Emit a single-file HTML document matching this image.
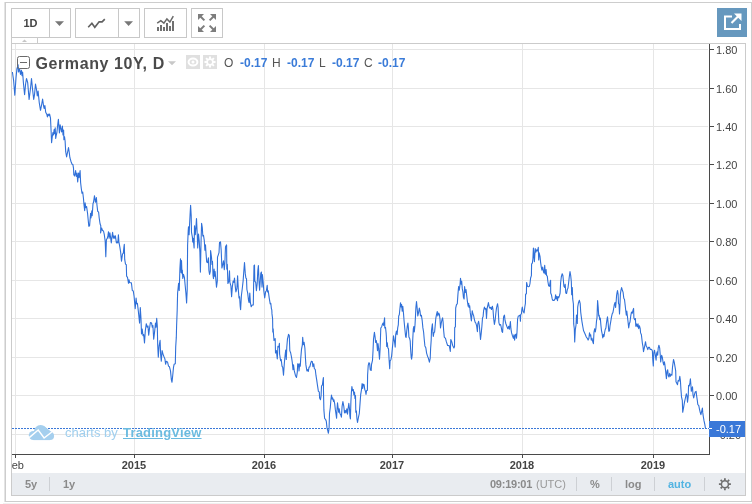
<!DOCTYPE html>
<html>
<head>
<meta charset="utf-8">
<title>Germany 10Y, D</title>
<style>
html,body{margin:0;padding:0;background:#fff;}
body{width:752px;height:504px;position:relative;overflow:hidden;font-family:"Liberation Sans",Arial,sans-serif;}
.abs{position:absolute;}
#outer{left:5px;top:2px;width:747px;height:500px;border:1px solid #cdcdcd;box-sizing:border-box;background:#fff;}
.btn{position:absolute;top:8px;height:30px;box-sizing:border-box;border:1px solid #c8c8c8;background:#fff;}
#chartbox{left:11px;top:43px;width:735px;height:453px;box-sizing:border-box;border:1px solid #cbcbcb;background:#fff;}
#pane{left:12px;top:44px;width:697px;height:410px;overflow:hidden;}
#bottombar{left:12px;top:473px;width:733px;height:22px;background:#e9ecf0;}
.bt{position:absolute;top:473px;height:22px;line-height:23px;font-size:11px;font-weight:bold;color:#8a8a8a;white-space:nowrap;}
.sep{position:absolute;top:477px;width:1px;height:14px;background:#cdd0d4;}
.yl{position:absolute;left:716px;font-size:11px;color:#444;line-height:12px;white-space:nowrap;}
.xl{position:absolute;top:459px;font-size:11px;font-weight:bold;color:#444;line-height:12px;width:40px;text-align:center;white-space:nowrap;}
.lg{position:absolute;top:55px;height:16px;line-height:16px;font-size:12px;white-space:nowrap;color:#555;}
.lv{color:#3a7bd8;font-weight:bold;}
</style>
</head>
<body>
<div id="outer" class="abs"></div>
<div class="abs" style="left:4px;top:2px;width:1px;height:500px;background:#e4e4e4;"></div>
<div class="abs" style="left:3px;top:503px;width:749px;height:1px;background:#f0f0f0;"></div>

<!-- toolbar -->
<div class="btn" style="left:11px;width:60px;"></div>
<div class="abs" style="left:49px;top:9px;width:1px;height:28px;background:#c8c8c8;"></div>
<div class="abs" style="left:12px;top:8px;width:37px;height:30px;line-height:31px;text-align:center;font-size:11px;font-weight:bold;color:#444;">1D</div>
<div class="btn" style="left:75px;width:65px;"></div>
<div class="abs" style="left:118px;top:9px;width:1px;height:28px;background:#c8c8c8;"></div>
<div class="btn" style="left:144px;width:43px;"></div>
<div class="btn" style="left:191px;width:32px;"></div>
<div class="abs" style="left:717px;top:8px;width:30px;height:29px;background:#6698be;"></div>
<!-- small tab -->
<div class="abs" style="left:11px;top:37px;width:27px;height:7px;box-sizing:border-box;border:1px solid #cbcbcb;border-top:none;border-bottom:none;"></div>

<div id="chartbox" class="abs"></div>
<div id="bottombar" class="abs"></div>

<svg class="abs" style="left:0;top:0" width="752" height="504" viewBox="0 0 752 504">
<g fill="#e6e6e6" shape-rendering="crispEdges"><rect x="12" y="49" width="696" height="1"/><rect x="12" y="88" width="696" height="1"/><rect x="12" y="126" width="696" height="1"/><rect x="12" y="164" width="696" height="1"/><rect x="12" y="203" width="696" height="1"/><rect x="12" y="241" width="696" height="1"/><rect x="12" y="280" width="696" height="1"/><rect x="12" y="318" width="696" height="1"/><rect x="12" y="357" width="696" height="1"/><rect x="12" y="395" width="696" height="1"/><rect x="12" y="434" width="696" height="1"/><rect x="15" y="44" width="1" height="410"/><rect x="134" y="44" width="1" height="410"/><rect x="264" y="44" width="1" height="410"/><rect x="392" y="44" width="1" height="410"/><rect x="522" y="44" width="1" height="410"/><rect x="653" y="44" width="1" height="410"/></g>
<!-- toolbar icons -->
<g fill="#777">
<path d="M55,21.2 L64,21.2 L59.5,26 Z"/>
<path d="M124.2,21.2 L133,21.2 L128.6,26 Z"/>
</g>
<path d="M22,42 L27,42 L24.5,39.5 Z" fill="#c6c6c6"/>
<path d="M88.2,27.3 L91.9,23.3 L94.8,27.3 L99.1,21.8 L102.1,21.9 L104.8,19.1" fill="none" stroke="#606060" stroke-width="1.6" stroke-linejoin="miter"/>
<g fill="#707070" shape-rendering="crispEdges">
<rect x="157" y="27" width="2" height="4"/><rect x="160" y="25" width="2" height="6"/><rect x="163" y="27" width="2" height="4"/><rect x="166" y="23" width="2" height="8"/><rect x="169" y="26" width="2" height="5"/><rect x="172" y="21" width="2" height="10"/>
</g>
<path d="M157.2,23.2 L160.8,20.7 L163.9,23.2 L166.9,18.9 L169.9,22.1 L173.3,16.2" fill="none" stroke="#6a6a6a" stroke-width="1.5"/>
<!-- fullscreen arrows -->
<g fill="#7d7d7d" stroke="#7d7d7d" stroke-width="2">
<path d="M198,14 L204,14 L198,20 Z" stroke="none"/><path d="M200,16 L204.4,20.4" fill="none"/>
<path d="M216,14 L210,14 L216,20 Z" stroke="none"/><path d="M214,16 L209.6,20.4" fill="none"/>
<path d="M198,32 L204,32 L198,26 Z" stroke="none"/><path d="M200,30 L204.4,25.6" fill="none"/>
<path d="M216,32 L210,32 L216,26 Z" stroke="none"/><path d="M214,30 L209.6,25.6" fill="none"/>
</g>
<!-- popup icon -->
<g fill="none" stroke="#fff" stroke-width="2">
<path d="M732,16.5 L725,16.5 L725,29 L740,29 L740,24"/>
<path d="M731.5,23 L739,15.5" stroke-width="2.2"/>
</g>
<path d="M734,13.5 L741.5,13.5 L741.5,21 Z" fill="#fff"/>

<!-- series -->
<svg x="12" y="44" width="697" height="410" viewBox="12 44 697 410" overflow="hidden">
<path d="M12.4,72.0 L13.6,80.3 L14.8,95.3 L16.0,78.0 L16.9,69.0 L18.1,64.8 L18.4,72.0 L19.6,69.0 L20.5,74.4 L21.4,70.2 L22.0,75.6 L22.6,72.0 L23.4,82.7 L24.6,94.7 L25.6,84.0 L26.5,78.5 L27.7,82.7 L29.1,99.5 L30.6,87.5 L31.5,78.5 L32.5,88.7 L33.7,99.5 L34.5,94.7 L35.5,84.0 L36.6,90.0 L37.3,96.0 L38.1,91.0 L39.3,103.0 L40.5,110.3 L41.7,104.3 L42.6,99.0 L43.5,105.5 L44.1,108.5 L44.9,105.5 L45.7,112.2 L46.9,114.6 L47.4,117.0 L48.1,114.0 L49.0,115.8 L49.6,114.0 L50.5,118.2 L51.0,129.0 L51.6,142.7 L52.2,137.3 L52.9,132.5 L53.5,135.0 L54.1,129.5 L54.6,133.7 L55.2,127.7 L55.7,138.5 L56.3,135.0 L56.9,132.5 L57.7,124.7 L58.4,119.4 L58.9,126.5 L59.4,133.0 L60.1,124.7 L60.8,128.3 L61.5,132.0 L62.4,126.0 L63.0,135.0 L63.6,130.0 L63.9,139.7 L64.5,136.7 L65.1,141.0 L65.7,151.7 L66.6,157.0 L67.3,153.5 L68.5,147.5 L69.3,152.9 L69.9,157.7 L70.9,161.2 L72.1,164.2 L72.9,164.6 L73.5,168.2 L73.8,174.7 L74.6,176.0 L75.6,170.6 L76.3,176.5 L77.0,173.0 L77.7,182.0 L78.5,173.0 L79.1,177.7 L80.1,170.6 L80.6,182.5 L81.3,188.5 L82.0,193.3 L82.7,192.0 L83.5,198.7 L83.9,204.0 L84.7,210.6 L85.1,202.9 L85.8,207.7 L86.6,206.5 L87.5,212.8 L88.8,226.3 L89.6,225.7 L90.6,213.2 L91.0,218.0 L91.8,210.8 L92.2,215.6 L93.0,203.6 L93.5,202.3 L94.5,195.7 L95.4,202.3 L96.4,197.5 L96.9,204.5 L97.7,211.4 L98.6,212.0 L99.2,218.0 L100.1,224.0 L100.8,225.7 L100.6,232.9 L101.6,228.0 L102.5,230.5 L103.5,231.0 L104.3,234.7 L105.2,241.3 L105.8,256.8 L106.4,239.5 L107.3,238.3 L107.9,235.9 L108.5,231.7 L109.1,238.3 L109.9,232.9 L110.7,238.3 L111.3,243.0 L111.9,237.0 L112.6,232.3 L113.3,238.3 L114.0,235.9 L114.7,238.3 L115.4,235.9 L116.4,243.0 L117.2,241.9 L117.8,243.0 L118.4,234.7 L118.9,241.9 L119.9,247.3 L120.7,252.7 L121.5,261.2 L122.5,254.0 L123.3,253.4 L123.9,247.4 L124.3,244.3 L124.7,259.4 L125.5,264.1 L126.3,264.7 L126.6,276.1 L127.5,277.3 L128.5,283.3 L129.0,279.7 L129.7,282.7 L131.4,282.7 L132.3,290.5 L133.3,291.0 L134.1,296.5 L135.2,308.8 L136.1,298.0 L136.7,304.0 L137.4,303.4 L138.4,311.8 L139.6,323.1 L140.3,307.6 L141.0,318.9 L141.5,333.9 L142.2,329.1 L143.0,335.7 L143.7,334.5 L144.5,342.9 L145.3,330.9 L146.3,323.7 L147.3,327.3 L148.0,326.1 L148.7,335.1 L149.5,328.5 L150.4,322.5 L151.6,323.1 L152.3,327.3 L152.9,325.5 L153.7,339.3 L154.7,330.9 L155.5,323.1 L156.1,327.3 L156.7,318.3 L157.3,326.1 L157.7,345.0 L158.3,357.1 L159.1,345.8 L160.1,340.4 L160.6,354.1 L161.3,361.3 L162.1,350.6 L163.0,354.1 L163.9,356.5 L164.9,358.9 L165.6,364.3 L166.3,361.3 L167.5,361.9 L168.5,366.1 L169.4,366.7 L170.5,370.9 L171.4,379.9 L172.0,382.3 L172.7,375.7 L173.5,367.3 L174.1,364.3 L175.3,363.7 L175.7,347.0 L176.3,337.4 L176.6,326.0 L177.2,310.0 L177.6,293.0 L178.6,283.3 L179.2,290.5 L179.9,268.9 L180.5,258.8 L181.1,272.5 L181.5,260.6 L182.0,273.7 L182.3,270.1 L182.8,278.5 L183.5,274.3 L184.4,277.3 L185.2,285.7 L185.9,292.9 L186.6,303.0 L187.2,290.0 L187.6,245.5 L188.2,231.1 L188.5,226.9 L189.1,234.7 L189.6,223.9 L190.1,214.4 L190.6,205.4 L191.2,215.6 L191.5,232.3 L192.4,237.1 L192.7,241.9 L193.2,238.3 L194.1,247.9 L194.5,225.7 L195.3,234.7 L195.9,227.5 L196.5,218.5 L197.3,235.9 L197.7,247.9 L198.5,234.1 L199.2,240.7 L199.9,252.0 L200.4,272.1 L201.1,240.0 L201.6,223.3 L202.3,227.5 L202.8,235.9 L203.5,235.3 L204.3,240.7 L204.9,250.3 L205.5,244.9 L205.9,251.5 L206.7,262.0 L207.6,262.6 L208.4,257.8 L208.9,270.3 L209.6,274.5 L210.3,271.5 L210.6,250.5 L211.5,257.2 L212.0,264.4 L212.5,261.4 L213.0,275.1 L213.5,278.7 L214.1,269.1 L214.7,276.3 L215.1,271.5 L215.9,279.9 L216.5,287.1 L217.3,281.1 L217.5,257.2 L218.3,254.8 L219.0,252.7 L219.5,242.5 L220.5,241.9 L221.2,250.3 L221.9,268.0 L222.8,264.4 L223.5,260.8 L224.3,269.7 L224.9,262.0 L225.5,246.7 L226.6,244.9 L226.8,269.1 L227.3,264.4 L227.9,283.5 L228.9,281.1 L229.5,270.9 L229.9,282.3 L230.9,285.9 L231.6,296.7 L232.3,287.1 L233.1,281.1 L233.9,282.3 L234.5,278.1 L235.2,285.9 L235.9,291.9 L236.9,288.3 L237.6,275.7 L238.3,289.5 L239.0,297.9 L239.6,296.7 L240.2,306.2 L240.6,309.8 L241.4,295.5 L242.3,288.3 L243.1,281.1 L243.8,271.5 L244.5,262.6 L245.3,273.9 L245.9,278.1 L246.5,278.7 L246.9,289.5 L247.7,293.1 L248.5,300.3 L249.1,302.7 L249.8,293.1 L250.4,302.7 L251.2,306.8 L252.2,305.0 L253.3,305.0 L253.6,285.9 L254.0,265.6 L254.5,265.0 L254.8,281.1 L255.7,282.3 L256.4,290.7 L257.2,283.5 L257.8,270.9 L258.4,265.6 L259.0,281.1 L259.6,290.1 L260.3,279.9 L260.8,273.3 L261.4,272.1 L262.0,287.1 L262.4,274.5 L263.2,282.3 L263.8,290.7 L264.7,297.9 L265.6,291.9 L266.4,290.7 L267.2,285.3 L267.6,291.9 L268.2,290.7 L269.2,297.9 L270.2,303.9 L270.8,303.3 L271.4,308.6 L271.8,309.8 L272.0,313.9 L272.6,318.7 L272.8,331.9 L273.2,328.9 L273.5,334.3 L274.0,340.4 L275.2,338.6 L275.5,353.0 L276.4,350.6 L277.3,358.9 L277.9,346.4 L278.8,347.0 L279.4,343.4 L279.6,354.1 L280.6,360.7 L281.2,359.5 L282.0,366.1 L282.7,367.3 L283.5,375.1 L284.4,362.5 L285.1,355.3 L285.7,350.0 L286.3,359.5 L286.8,347.0 L287.5,338.6 L288.0,337.0 L288.5,334.3 L289.3,335.6 L289.8,350.6 L290.7,353.0 L291.6,357.7 L292.3,362.5 L293.0,369.7 L293.5,364.9 L294.3,370.9 L295.5,375.7 L296.5,377.5 L297.3,372.1 L297.7,363.7 L298.5,364.3 L299.0,370.9 L299.7,363.7 L300.3,366.1 L300.7,358.9 L301.5,349.4 L302.3,345.2 L302.7,337.4 L303.3,344.6 L304.1,342.2 L304.9,348.2 L305.5,358.9 L305.9,364.9 L306.9,370.9 L307.8,369.7 L308.3,371.5 L309.0,367.3 L309.9,366.7 L310.7,363.1 L311.4,361.3 L312.3,361.6 L312.9,366.7 L313.8,363.7 L314.3,368.5 L315.3,369.7 L316.0,375.7 L316.7,379.9 L317.4,384.8 L318.4,391.4 L319.3,392.0 L319.6,398.0 L320.5,399.7 L321.1,395.6 L321.5,386.0 L322.4,384.8 L323.0,380.0 L323.4,377.5 L323.5,392.0 L323.9,409.9 L324.6,418.3 L325.6,419.5 L326.3,421.3 L327.0,427.9 L327.7,430.3 L328.4,433.3 L329.1,427.9 L329.5,413.5 L330.3,407.5 L330.9,399.7 L331.5,395.0 L332.1,399.1 L332.7,397.9 L333.5,401.5 L333.9,399.7 L334.7,403.9 L335.4,409.9 L336.1,414.7 L336.6,418.3 L337.0,409.9 L337.5,402.7 L338.2,408.7 L338.7,412.3 L339.2,408.7 L339.9,413.5 L340.9,415.3 L341.4,417.1 L342.1,406.3 L342.9,401.5 L343.8,406.3 L344.5,412.9 L345.3,410.5 L345.9,412.9 L346.9,408.7 L347.5,414.1 L348.1,408.7 L348.8,403.3 L349.5,408.7 L349.9,415.9 L350.4,418.9 L350.9,401.5 L351.4,392.0 L351.9,386.6 L352.6,390.8 L353.3,389.6 L353.9,395.0 L354.5,392.0 L355.0,398.5 L355.5,395.6 L355.8,412.3 L356.4,411.1 L356.9,418.3 L357.5,422.5 L358.5,417.1 L359.3,413.5 L360.0,403.9 L360.7,394.4 L361.5,389.6 L362.1,383.6 L362.7,388.4 L363.3,384.2 L364.1,384.8 L364.8,389.6 L365.5,391.4 L366.0,394.4 L366.5,390.8 L367.4,390.2 L367.6,375.3 L368.2,365.7 L368.9,362.7 L369.6,363.3 L370.3,369.9 L371.2,370.5 L371.5,364.5 L372.5,360.3 L373.0,351.3 L373.5,339.4 L374.4,332.2 L375.1,337.0 L375.6,342.4 L376.3,340.6 L376.9,344.1 L377.5,350.7 L378.0,343.5 L378.7,348.9 L379.5,359.1 L380.1,348.9 L380.5,337.0 L380.8,328.0 L381.7,326.7 L382.4,324.3 L383.1,323.1 L383.6,325.5 L384.6,317.7 L384.8,327.9 L385.5,327.3 L386.1,332.7 L386.4,337.0 L386.7,346.5 L387.3,342.9 L387.8,347.7 L388.5,348.9 L389.1,359.7 L389.7,368.7 L390.1,360.9 L390.9,359.7 L391.6,356.1 L392.3,348.9 L393.1,340.6 L393.5,335.8 L394.3,340.6 L394.7,343.0 L395.2,347.1 L395.7,334.6 L396.4,331.0 L397.1,334.6 L397.7,327.9 L398.3,324.9 L398.7,315.9 L399.3,314.7 L399.9,308.7 L400.5,302.7 L401.1,306.9 L401.6,304.5 L402.2,311.1 L402.8,306.3 L403.5,313.5 L404.1,321.3 L404.8,328.5 L405.6,336.5 L406.1,337.4 L406.7,331.5 L407.3,326.1 L407.9,323.1 L408.4,328.0 L408.9,337.0 L409.7,338.6 L410.2,341.0 L410.6,348.9 L411.2,357.3 L411.6,359.1 L412.2,354.9 L412.7,340.6 L413.3,329.0 L413.9,326.5 L414.3,332.0 L415.0,325.0 L415.5,315.9 L415.9,307.5 L416.5,301.5 L417.1,307.5 L417.8,315.9 L418.6,312.3 L419.3,308.1 L420.0,311.1 L420.5,315.9 L421.4,315.3 L422.2,320.7 L422.9,327.9 L423.6,332.0 L424.2,339.0 L424.9,345.9 L425.8,347.7 L426.6,353.1 L427.5,356.1 L428.5,358.5 L429.4,362.1 L430.2,358.5 L430.6,348.9 L431.2,340.0 L431.5,330.3 L432.4,323.7 L432.9,332.7 L433.3,336.5 L433.9,332.7 L434.6,332.1 L435.2,325.5 L435.8,318.3 L436.5,314.7 L437.3,311.5 L437.8,315.9 L438.7,313.0 L439.4,314.5 L440.0,319.3 L440.5,328.0 L441.2,323.5 L441.9,320.0 L442.6,317.8 L443.1,322.0 L443.6,330.0 L444.3,337.1 L445.5,338.3 L446.4,341.9 L447.6,345.5 L449.1,345.5 L449.7,347.9 L450.3,351.5 L450.8,339.5 L451.8,341.9 L452.7,345.5 L453.9,347.9 L454.5,346.7 L454.7,327.5 L455.4,326.9 L455.7,308.0 L456.5,304.6 L457.3,303.8 L457.9,294.9 L458.6,286.5 L459.3,290.1 L460.1,284.1 L460.5,278.2 L461.2,284.1 L461.7,281.2 L462.3,288.9 L462.9,291.9 L463.4,297.3 L464.1,299.1 L464.6,286.5 L465.3,292.5 L466.0,289.5 L466.8,296.1 L467.5,302.1 L468.2,306.3 L468.7,303.3 L469.1,307.5 L469.7,305.7 L470.3,312.9 L471.4,321.0 L472.2,310.7 L472.9,314.0 L473.6,315.5 L474.3,319.1 L475.1,322.1 L475.9,323.3 L476.6,325.7 L477.4,331.7 L477.8,323.9 L478.6,321.3 L479.3,325.1 L479.9,332.3 L480.5,339.5 L481.2,333.5 L481.9,326.3 L482.5,318.0 L483.1,316.6 L483.6,310.6 L484.4,307.0 L485.1,309.2 L485.9,308.5 L486.5,318.5 L487.1,308.5 L487.7,306.0 L488.4,302.5 L489.2,306.7 L489.9,308.3 L490.7,307.3 L491.5,309.5 L492.4,306.2 L493.0,309.5 L493.6,318.0 L494.4,324.5 L495.1,320.7 L495.8,313.5 L496.5,308.0 L497.2,305.0 L497.6,303.7 L498.1,307.5 L498.5,315.5 L498.9,322.6 L499.6,325.1 L500.6,324.5 L501.4,328.1 L502.0,331.7 L502.6,332.3 L503.2,322.7 L503.5,317.7 L503.9,316.0 L504.5,315.2 L505.0,320.2 L505.8,323.5 L506.8,326.3 L507.8,328.7 L508.7,326.3 L509.4,329.3 L510.4,321.6 L510.9,328.7 L511.6,332.9 L512.5,335.9 L513.4,338.3 L514.0,334.7 L514.6,340.1 L515.4,334.7 L516.1,334.1 L516.5,338.3 L517.0,332.3 L517.6,319.0 L518.3,316.0 L519.2,315.7 L520.0,315.1 L520.4,321.3 L520.7,314.8 L521.4,313.7 L521.9,309.0 L522.3,307.0 L523.1,311.3 L524.1,313.0 L524.8,307.0 L525.4,303.3 L525.6,294.3 L526.4,293.7 L526.6,282.5 L527.5,286.3 L528.4,286.7 L529.3,286.5 L530.0,283.5 L530.6,278.0 L531.4,275.6 L531.6,264.1 L532.4,262.9 L532.9,258.7 L533.4,248.0 L534.4,261.7 L535.2,248.5 L535.9,252.1 L536.8,249.7 L537.6,250.9 L538.3,247.4 L538.7,259.9 L539.1,252.7 L540.0,256.3 L540.6,262.3 L541.3,267.1 L541.9,270.1 L542.7,267.1 L543.5,271.9 L544.2,273.1 L544.7,265.3 L545.4,274.3 L546.1,269.5 L546.6,275.5 L547.3,276.1 L547.8,281.0 L548.6,285.7 L549.5,286.3 L550.2,281.5 L550.6,280.3 L550.7,293.0 L551.4,294.7 L552.2,298.9 L552.9,300.4 L554.1,300.4 L555.1,298.9 L555.6,294.7 L556.2,298.9 L556.8,296.5 L557.5,300.7 L558.0,296.5 L558.7,297.7 L559.4,295.9 L560.1,293.0 L560.6,283.0 L561.3,277.0 L562.2,273.7 L562.9,275.5 L563.4,280.7 L563.9,286.3 L564.7,287.5 L565.2,284.2 L565.8,293.0 L566.6,293.5 L567.3,289.6 L568.0,288.0 L568.6,283.0 L569.2,277.5 L570.0,271.5 L570.7,275.5 L571.3,281.5 L571.7,294.7 L572.3,287.6 L572.7,298.9 L573.4,304.0 L573.7,323.9 L574.3,328.7 L574.7,341.9 L575.3,329.9 L576.0,325.1 L576.5,315.0 L577.0,315.6 L577.3,323.5 L577.7,307.2 L578.4,303.0 L579.4,300.3 L580.2,303.6 L580.7,312.0 L581.3,316.8 L582.0,321.8 L582.7,326.0 L583.5,330.5 L584.4,332.5 L585.3,334.5 L586.3,337.0 L587.3,338.3 L588.1,340.1 L588.9,338.3 L589.5,332.7 L590.1,335.9 L590.7,334.7 L591.3,340.1 L592.0,338.3 L592.8,341.9 L593.4,343.7 L594.0,332.0 L594.7,328.7 L595.3,332.0 L595.9,328.5 L596.5,321.0 L597.0,318.0 L597.6,300.6 L598.2,307.2 L598.7,316.0 L599.2,315.3 L599.7,319.8 L600.3,318.0 L600.9,325.1 L601.5,330.7 L602.1,333.5 L602.8,338.0 L603.4,334.5 L604.0,336.5 L604.5,333.0 L605.2,329.5 L605.9,328.0 L606.4,323.5 L607.0,319.7 L607.5,316.8 L608.1,322.7 L608.8,331.1 L609.5,331.0 L610.0,326.0 L610.7,321.8 L611.5,316.8 L612.2,313.8 L612.9,312.6 L613.6,308.8 L614.4,304.2 L615.1,302.4 L615.6,307.5 L616.1,302.2 L616.6,295.3 L617.1,292.4 L617.5,290.6 L618.1,294.1 L618.5,303.7 L619.0,304.3 L619.5,314.0 L619.9,306.5 L620.4,294.1 L620.9,290.6 L621.6,287.6 L622.3,290.0 L623.1,292.4 L623.8,298.3 L624.5,299.5 L625.2,305.5 L625.8,311.0 L626.3,315.3 L626.8,311.0 L627.2,314.5 L627.9,320.5 L628.7,328.0 L629.4,323.5 L630.0,322.0 L630.8,315.6 L631.5,312.0 L632.3,313.2 L633.0,310.2 L633.6,308.4 L633.9,318.0 L634.7,319.7 L635.4,318.5 L635.8,326.3 L636.6,323.9 L637.3,326.9 L638.0,323.9 L638.7,328.7 L639.4,325.7 L640.2,328.7 L640.6,332.9 L641.4,334.7 L641.8,338.3 L642.4,343.5 L643.0,346.7 L643.5,351.6 L644.2,348.3 L644.9,345.0 L645.5,341.7 L646.2,346.0 L647.0,347.3 L647.8,349.7 L648.6,347.2 L649.4,347.2 L650.2,349.5 L651.0,349.3 L651.8,349.8 L652.4,351.0 L652.7,358.5 L653.3,366.0 L653.8,353.0 L654.5,350.2 L655.2,354.5 L656.1,360.1 L656.5,354.1 L657.1,351.8 L657.7,355.3 L658.2,348.2 L658.9,345.2 L659.7,348.2 L660.1,353.0 L660.7,361.9 L661.6,355.3 L662.3,357.1 L663.1,362.5 L663.7,364.9 L664.4,361.9 L664.9,364.9 L665.6,370.9 L666.4,378.7 L667.1,370.9 L667.7,369.7 L668.3,375.7 L669.0,376.9 L669.7,373.3 L670.4,376.3 L671.1,374.5 L671.9,375.1 L672.5,367.3 L673.1,362.5 L673.5,359.5 L674.3,362.5 L675.1,367.3 L675.7,370.9 L676.0,381.7 L676.9,383.5 L677.5,384.7 L678.1,380.5 L679.0,381.1 L679.8,376.3 L680.4,380.5 L680.9,389.0 L681.5,396.8 L682.3,400.3 L682.7,412.3 L683.7,406.9 L684.5,402.1 L685.4,398.0 L686.3,393.8 L687.0,395.6 L687.5,402.1 L688.2,396.8 L688.6,385.4 L689.3,386.0 L689.9,382.9 L690.4,378.7 L690.9,385.0 L691.3,391.3 L692.0,388.3 L692.5,386.8 L693.0,395.0 L693.7,398.0 L694.5,394.4 L695.2,392.0 L696.1,391.4 L696.6,395.6 L697.3,400.3 L697.8,404.5 L698.8,405.7 L699.5,409.3 L700.2,412.3 L700.9,414.7 L701.6,411.7 L702.4,408.1 L702.8,412.9 L703.3,416.5 L704.0,420.7 L704.8,424.3 L705.5,428.5" fill="none" stroke="#3070d8" stroke-width="1.1" stroke-linejoin="round"/>
<path d="M12,428.5 L709,428.5" stroke="#3a78d8" stroke-width="1" stroke-dasharray="2,1" fill="none" shape-rendering="crispEdges"/>
</svg>

<!-- axes -->
<g fill="#4a4a4a" shape-rendering="crispEdges">
<rect x="709" y="44" width="1" height="411"/>
<rect x="12" y="454" width="698" height="1"/>
<rect x="710" y="49" width="4" height="1"/><rect x="710" y="88" width="4" height="1"/><rect x="710" y="126" width="4" height="1"/><rect x="710" y="164" width="4" height="1"/><rect x="710" y="203" width="4" height="1"/><rect x="710" y="241" width="4" height="1"/><rect x="710" y="280" width="4" height="1"/><rect x="710" y="318" width="4" height="1"/><rect x="710" y="357" width="4" height="1"/><rect x="710" y="395" width="4" height="1"/><rect x="710" y="434" width="4" height="1"/><rect x="15" y="455" width="1" height="3"/><rect x="134" y="455" width="1" height="3"/><rect x="264" y="455" width="1" height="3"/><rect x="392" y="455" width="1" height="3"/><rect x="522" y="455" width="1" height="3"/><rect x="653" y="455" width="1" height="3"/>
</g>
<!-- price label -->
<rect x="709" y="421" width="36" height="16" fill="#3a78d8" shape-rendering="crispEdges"/>
<rect x="709" y="428" width="3" height="1" fill="#fff" shape-rendering="crispEdges"/>

<!-- legend icons -->
<rect x="17.5" y="56.5" width="12" height="12" rx="2" ry="2" fill="none" stroke="#6a6a6a" stroke-width="1"/>
<rect x="20" y="62" width="7" height="1" fill="#6a6a6a" shape-rendering="crispEdges"/>
<path d="M168,61.2 L176,61.2 L172,65.2 Z" fill="#c8c8c8"/>
<rect x="186" y="55" width="14" height="14" fill="#e0e0e0"/>
<rect x="203" y="55" width="14" height="14" fill="#e0e0e0"/>
<ellipse cx="193" cy="62" rx="4.4" ry="3.5" fill="none" stroke="#fff" stroke-width="2"/>
<circle cx="193" cy="62" r="1.5" fill="#fff"/>
<g transform="translate(210,62)" fill="#fff">
<circle r="3.7"/>
<rect x="-1" y="-5.5" width="2" height="11"/><rect x="-1" y="-5.5" width="2" height="11" transform="rotate(45)"/><rect x="-1" y="-5.5" width="2" height="11" transform="rotate(90)"/><rect x="-1" y="-5.5" width="2" height="11" transform="rotate(135)"/>
<circle r="2.1" fill="#e0e0e0"/>
</g>

<!-- watermark cloud -->
<g fill="#a5cfee">
<circle cx="33.4" cy="435.5" r="4.6"/><circle cx="40.6" cy="431.7" r="6.7"/><circle cx="50" cy="436" r="4.1"/>
<rect x="33.4" y="433" width="16.6" height="7.1"/><path d="M44,426 L52.5,432.8 L46,436 Z"/>
</g>
<path d="M29.2,437.6 L38.2,430 L44.1,438 L51.8,432" fill="none" stroke="#fff" stroke-width="1.4" stroke-linejoin="miter"/>

<!-- bottom gear -->
<g transform="translate(724.9,484.2)" fill="none" stroke="#6e6e6e">
<circle r="3.5" stroke-width="1.5"/>
<path stroke-width="1.8" d="M0,-4 L0,-6 M0,4 L0,6 M-4,0 L-6,0 M4,0 L6,0 M2.85,2.85 L4.25,4.25 M-2.85,2.85 L-4.25,4.25 M2.85,-2.85 L4.25,-4.25 M-2.85,-2.85 L-4.25,-4.25"/>
</g>
</svg>

<!-- legend -->
<div class="abs" style="left:35.5px;top:54px;height:20px;line-height:20px;font-size:16px;font-weight:bold;color:#4a4a4a;white-space:nowrap;letter-spacing:0.6px;">Germany 10Y, D</div>
<div class="lg" style="left:224px;">O</div><div class="lg lv" style="left:240px;">-0.17</div>
<div class="lg" style="left:272px;">H</div><div class="lg lv" style="left:287px;">-0.17</div>
<div class="lg" style="left:319px;">L</div><div class="lg lv" style="left:332px;">-0.17</div>
<div class="lg" style="left:364px;">C</div><div class="lg lv" style="left:378px;">-0.17</div>

<!-- price axis labels -->
<div class="yl" style="top:44px">1.80</div><div class="yl" style="top:83px">1.60</div><div class="yl" style="top:121px">1.40</div><div class="yl" style="top:159px">1.20</div><div class="yl" style="top:198px">1.00</div><div class="yl" style="top:236px">0.80</div><div class="yl" style="top:275px">0.60</div><div class="yl" style="top:313px">0.40</div><div class="yl" style="top:352px">0.20</div><div class="yl" style="top:390px">0.00</div><div class="yl" style="top:429px">-0.20</div>
<div class="abs" style="left:709px;top:421px;width:36px;height:16px;background:#3a78d8;"></div>
<div class="abs" style="left:709px;top:428px;width:3px;height:1px;background:#fff;"></div>
<div class="abs" style="left:716px;top:422px;font-size:11px;line-height:14px;color:#fff;white-space:nowrap;">-0.17</div>

<!-- time axis labels -->
<div class="abs" style="left:12px;top:455px;width:697px;height:18px;overflow:hidden;">
<div style="position:absolute;left:-12px;top:-455px;"><div class="xl" style="left:-5.5px;width:40px;font-weight:normal;">Feb</div><div class="xl" style="left:114px">2015</div><div class="xl" style="left:244px">2016</div><div class="xl" style="left:372px">2017</div><div class="xl" style="left:502px">2018</div><div class="xl" style="left:633px">2019</div></div>
</div>

<!-- watermark text -->
<div class="abs" style="left:65px;top:425px;font-size:13px;line-height:15px;color:#a0cfee;white-space:nowrap;">charts by</div><div class="abs" style="left:123px;top:425px;font-size:13px;line-height:15px;font-weight:bold;color:#6bbbe0;text-decoration:underline;white-space:nowrap;letter-spacing:0.2px;">TradingView</div>

<!-- bottom bar -->
<div class="bt" style="left:25px;">5y</div>
<div class="sep" style="left:49px;"></div>
<div class="bt" style="left:63px;">1y</div>
<div class="bt" style="left:490px;letter-spacing:-0.25px;">09:19:01</div><div class="bt" style="left:536px;font-weight:normal;color:#999;">(UTC)</div>
<div class="sep" style="left:576px;"></div>
<div class="bt" style="left:590px;">%</div>
<div class="sep" style="left:611px;"></div>
<div class="bt" style="left:625px;">log</div>
<div class="sep" style="left:654px;"></div>
<div class="bt" style="left:668px;color:#52b4e2;">auto</div>
<div class="sep" style="left:704px;"></div>

</body>
</html>
